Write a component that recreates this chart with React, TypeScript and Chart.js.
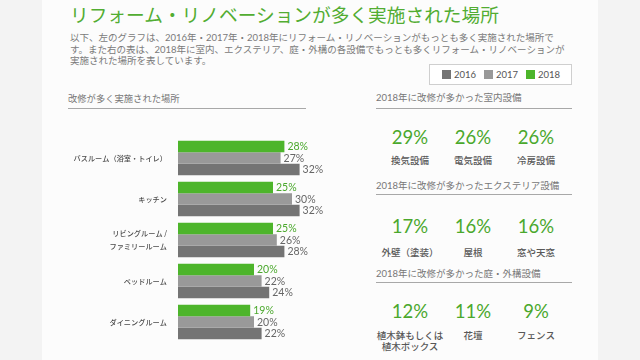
import React, { useEffect, useRef } from "react";
import { Chart, registerables } from "chart.js";

Chart.register(...registerables);

const title = "リフォーム・リノベーションが多く実施された場所";
const descriptionLines = [
  "以下、左のグラフは、2016年・2017年・2018年にリフォーム・リノベーションがもっとも多く実施された場所で",
  "す。また右の表は、2018年に室内、エクステリア、庭・外構の各設備でもっとも多くリフォーム・リノベーションが",
  "実施された場所を表しています。",
];
const leftHeader = "改修が多く実施された場所";

const categories: (string | string[])[] = [
  "バスルーム（浴室・トイレ）",
  "キッチン",
  ["リビングルーム /", "ファミリールーム"],
  "ベッドルーム",
  "ダイニングルーム",
];
const values2018 = [28, 25, 25, 20, 19];
const values2017 = [27, 30, 26, 22, 20];
const values2016 = [32, 32, 28, 24, 22];

const legendYears = ["2016", "2017", "2018"];
const legendColors = ["#747474", "#999999", "#4db52b"];

const sectionTitles = [
  "2018年に改修が多かった室内設備",
  "2018年に改修が多かったエクステリア設備",
  "2018年に改修が多かった庭・外構設備",
];
const indoorNames = ["換気設備", "電気設備", "冷房設備"];
const indoorValues = [29, 26, 26];
const exteriorNames = ["外壁（塗装）", "屋根", "窓や天窓"];
const exteriorValues = [17, 16, 16];
const gardenNames = [["植木鉢もしくは", "植木ボックス"], ["花壇"], ["フェンス"]];
const gardenValues = [12, 11, 9];

const GREEN = "#4db52b";
const GREEN_TEXT = "#4aa82c";
const FONT = "Lato, 'Noto Sans CJK JP', sans-serif";
const JP = "'Noto Sans CJK JP', sans-serif";

const valueLabelPlugin = {
  id: "valueLabels",
  afterDatasetsDraw(chart: any) {
    const ctx = chart.ctx;
    ctx.save();
    chart.data.datasets.forEach((ds: any, i: number) => {
      const meta = chart.getDatasetMeta(i);
      meta.data.forEach((bar: any, j: number) => {
        ctx.fillStyle = ds.labelColor;
        ctx.font = "10.5px Lato, sans-serif";
        ctx.textAlign = "left";
        ctx.textBaseline = "middle";
        ctx.fillText(ds.data[j] + "%", bar.x + 3, bar.y + 0.5);
      });
    });
    ctx.restore();
  },
};

function BarChart() {
  const ref = useRef<HTMLCanvasElement | null>(null);
  useEffect(() => {
    if (!ref.current) return;
    const chart = new Chart(ref.current, {
      type: "bar",
      data: {
        labels: categories,
        datasets: [
          { label: "2018", data: values2018, backgroundColor: GREEN, labelColor: GREEN_TEXT } as any,
          { label: "2017", data: values2017, backgroundColor: "#999999", labelColor: "#666666" } as any,
          { label: "2016", data: values2016, backgroundColor: "#747474", labelColor: "#666666" } as any,
        ],
      },
      options: {
        indexAxis: "y",
        responsive: false,
        animation: false,
        devicePixelRatio: 1,
        layout: { padding: { top: 4.5, bottom: 0.5, left: 0, right: 0 } },
        datasets: { bar: { categoryPercentage: 0.84, barPercentage: 1 } },
        plugins: { legend: { display: false }, tooltip: { enabled: false } },
        scales: {
          x: { display: false, min: 0, max: 40 },
          y: {
            afterFit: (scale: any) => {
              scale.width = 178;
            },
            grid: { display: false, drawTicks: false },
            border: { display: false },
            ticks: {
              autoSkip: false,
              padding: 11,
              color: "#4a4a4a",
              font: { family: JP, size: 7.2, weight: "500", lineHeight: 1.8 },
            },
          },
        },
      },
      plugins: [valueLabelPlugin],
    } as any);
    return () => chart.destroy();
  }, []);
  return (
    <canvas
      ref={ref}
      width={330}
      height={240}
      style={{ position: "absolute", left: 0, top: 120, width: 330, height: 240 }}
    />
  );
}

const abs = (left: number, top: number, extra: React.CSSProperties = {}): React.CSSProperties => ({
  position: "absolute",
  left,
  top,
  whiteSpace: "nowrap",
  ...extra,
});

function Section(props: {
  title: string;
  headerY: number;
  lineY: number;
  pctY: number;
  labelY: number;
  names: string[][];
  values: number[];
}) {
  const cols = [410, 473, 536];
  return (
    <>
      <div style={abs(376, props.headerY - 7, { fontFamily: FONT, fontSize: 9.5, lineHeight: "14px", color: "#777" })}>
        {props.title}
      </div>
      <div style={abs(376, props.lineY - 0.75, { width: 196, height: 1.5, background: "#a8a8a8" })} />
      {props.values.map((v, i) => (
        <div
          key={"v" + i}
          style={abs(cols[i] - 40, props.pctY - 11, {
            width: 80,
            textAlign: "center",
            fontFamily: "Lato, sans-serif",
            fontWeight: 400,
            fontSize: 18.5,
            lineHeight: "22px",
            color: GREEN_TEXT,
          })}
        >
          {v}%
        </div>
      ))}
      {props.names.map((n, i) => (
        <div
          key={"n" + i}
          style={abs(cols[i] - 40, props.labelY - 6, {
            width: 80,
            textAlign: "center",
            fontFamily: JP,
            fontSize: 9.5,
            fontWeight: 500,
            lineHeight: "11px",
            color: "#585858",
          })}
        >
          {n.map((line, k) => (
            <div key={k}>{line}</div>
          ))}
        </div>
      ))}
    </>
  );
}

export default function App() {
  return (
    <div
      style={{
        position: "fixed",
        left: 0,
        top: 0,
        width: 640,
        height: 360,
        background: "#f3f3f3",
        overflow: "hidden",
      }}
    >
      <div style={{ position: "absolute", left: 42, top: 0, width: 556, height: 360, background: "#fcfcfc" }} />
      <div style={abs(70, 3, { fontFamily: JP, fontSize: 18.7, lineHeight: "22px", color: "#52ad32" })}>{title}</div>
      {descriptionLines.map((line, i) => (
        <div
          key={i}
          style={abs(70, 32 + i * 11.7, { fontFamily: FONT, fontSize: 9.5, lineHeight: "12px", color: "#7a7a7a" })}
        >
          {line}
        </div>
      ))}
      <div
        style={abs(429, 64, {
          width: 141,
          height: 19,
          border: "1px solid #cfcfcf",
          background: "#ffffff",
        })}
      />
      {legendYears.map((y, i) => (
        <React.Fragment key={y}>
          <div style={abs(442 + i * 42, 70, { width: 9, height: 9, background: legendColors[i] })} />
          <div
            style={abs(454 + i * 42, 68, { fontFamily: "Lato, sans-serif", fontSize: 9.5, lineHeight: "13px", color: "#555" })}
          >
            {y}
          </div>
        </React.Fragment>
      ))}
      <div style={abs(68, 91, { fontFamily: JP, fontSize: 9.3, lineHeight: "14px", color: "#777" })}>{leftHeader}</div>
      <div style={abs(68, 107.5, { width: 238, height: 1.2, background: "#a8a8a8" })} />
      <BarChart />
      <Section
        title={sectionTitles[0]}
        headerY={98}
        lineY={108.5}
        pctY={137}
        labelY={161}
        names={indoorNames.map((n) => [n])}
        values={indoorValues}
      />
      <Section
        title={sectionTitles[1]}
        headerY={186}
        lineY={194.5}
        pctY={225.5}
        labelY={253}
        names={exteriorNames.map((n) => [n])}
        values={exteriorValues}
      />
      <Section
        title={sectionTitles[2]}
        headerY={274}
        lineY={282.5}
        pctY={310.5}
        labelY={336}
        names={gardenNames}
        values={gardenValues}
      />
    </div>
  );
}
